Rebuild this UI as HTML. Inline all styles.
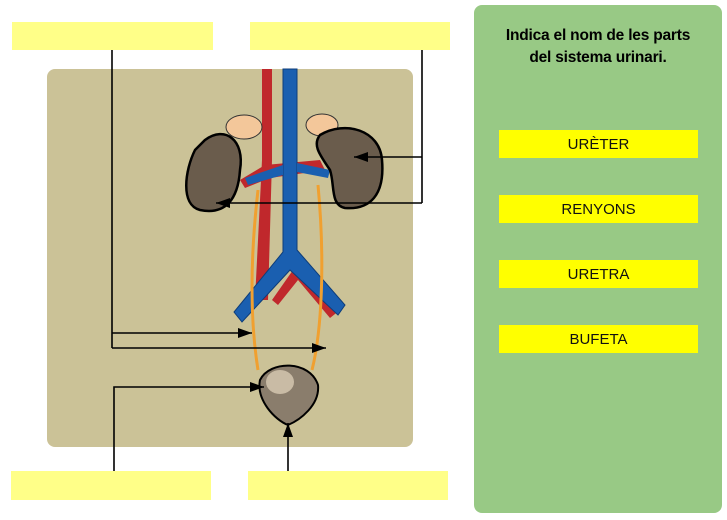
<!DOCTYPE html><html><head><style>
body{margin:0;width:727px;height:520px;background:#fff;overflow:hidden;position:relative;font-family:"Liberation Sans",sans-serif}
.y{position:absolute;background:#ffff88}
.p{position:absolute;left:474px;top:5px;width:248px;height:508px;background:#98c985;border-radius:8px}
.b{position:absolute;left:25px;width:199px;height:28px;background:#ffff00;text-align:center;line-height:30px;font-size:15px;color:#111}
</style></head><body>
<div class="y" style="left:12px;top:22px;width:201px;height:28px"></div>
<div class="y" style="left:250px;top:22px;width:200px;height:28px"></div>
<div class="y" style="left:11px;top:471px;width:200px;height:29px"></div>
<div class="y" style="left:248px;top:471px;width:200px;height:29px"></div>
<svg style="position:absolute;left:0;top:0" width="727" height="520">
<defs><marker id="a" markerWidth="14" markerHeight="10" refX="14" refY="5" orient="auto" markerUnits="userSpaceOnUse"><path d="M0,0L14,5L0,10z" fill="#000"/></marker></defs>
<rect x="47" y="69" width="366" height="378" rx="8" fill="#cbc297"/>
<path d="M262,69 L272,69 L272,160 L268,300 L255,300 L262,160z" fill="#c0282c"/>
<path d="M272,300 L300,260 L340,310 L330,318 L298,280 L278,305z" fill="#c0282c"/>
<path d="M240,180 L265,165 L320,160 L325,170 L270,178 L245,188z" fill="#c0282c"/>
<path d="M283,69 L297,69 L297,250 L345,305 L338,315 L290,270 L242,322 L234,312 L283,252z" fill="#1a5fb0" stroke="#0d3d7a"/>
<path d="M245,178 L283,165 L283,175 L248,185z M297,163 L330,170 L328,178 L297,172z" fill="#1a5fb0"/>
<path d="M258,190 C250,260 250,320 258,370 M318,185 C325,260 322,330 312,370" stroke="#f0a030" stroke-width="3" fill="none"/>
<ellipse cx="244" cy="127" rx="18" ry="12" fill="#f3c79a" stroke="#333"/>
<ellipse cx="322" cy="125" rx="16" ry="11" fill="#f3c79a" stroke="#333"/>
<path d="M205,140 C225,125 245,140 240,170 C238,200 225,215 200,210 C180,205 185,170 195,150z" fill="#6a5c4c" stroke="#000" stroke-width="2.5"/>
<path d="M320,135 C345,120 380,130 382,160 C385,195 370,210 345,208 C330,205 335,185 330,170 C320,155 312,145 320,135z" fill="#6a5c4c" stroke="#000" stroke-width="2.5"/>
<path d="M260,380 C270,360 310,360 318,385 C320,405 300,420 288,425 C275,420 256,400 260,380z" fill="#8a7d6c" stroke="#000" stroke-width="2"/>
<ellipse cx="280" cy="382" rx="14" ry="12" fill="#c9bba5"/>
<g stroke="#000" stroke-width="1.6" fill="none">
<path d="M112,50 V348"/><path d="M112,333 H252" marker-end="url(#a)"/><path d="M112,348 H326" marker-end="url(#a)"/>
<path d="M422,50 V203"/><path d="M422,157 H354" marker-end="url(#a)"/><path d="M422,203 H216" marker-end="url(#a)"/>
<path d="M114,471 V387 H264" marker-end="url(#a)"/>
<path d="M288,471 V423" marker-end="url(#a)"/>
</g></svg>
<div class="p">
<div style="text-align:center;margin-top:20px;font-size:15.5px;line-height:22px;color:#000;font-weight:bold;letter-spacing:-0.2px">Indica el nom de les parts<br>del sistema urinari.</div>
<div class="b" style="top:125px">URÈTER</div>
<div class="b" style="top:190px">RENYONS</div>
<div class="b" style="top:255px">URETRA</div>
<div class="b" style="top:320px">BUFETA</div>
</div>
</body></html>
